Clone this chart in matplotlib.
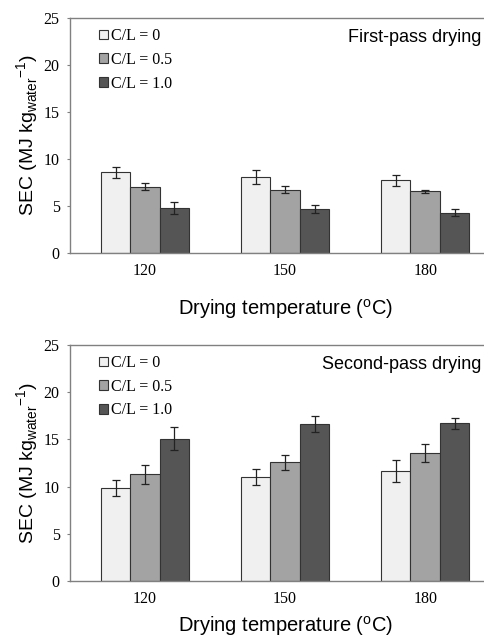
import numpy as np
import matplotlib
matplotlib.use("Agg")
from matplotlib import pyplot as plt
from matplotlib.patches import Patch

# data
temps = ["120", "150", "180"]
series = ["C/L = 0", "C/L = 0.5", "C/L = 1.0"]
colors = ["#f0f0f0", "#a3a3a3", "#555555"]

first_vals = [[8.6, 8.05, 7.73], [7.05, 6.75, 6.55], [4.8, 4.7, 4.3]]
first_err = [[0.6, 0.75, 0.55], [0.35, 0.35, 0.2], [0.65, 0.4, 0.4]]
second_vals = [[9.85, 11.02, 11.62], [11.3, 12.57, 13.6], [15.08, 16.63, 16.7]]
second_err = [[0.85, 0.83, 1.17], [1.0, 0.76, 0.95], [1.2, 0.85, 0.6]]

serif = "Liberation Serif"
sans = "Liberation Sans"

fig = plt.figure(figsize=(4.84, 6.37), dpi=100)
ax1 = fig.add_axes([0.1446, 0.6028, 0.889, 0.3689])
ax2 = fig.add_axes([0.1446, 0.0879, 0.889, 0.3705])


def draw(ax, vals, errs, title, xpad):
    x = np.arange(len(temps))
    w = 0.21
    for i in range(len(series)):
        ax.bar(x + (i - 1) * w, vals[i], w, color=colors[i], edgecolor="#333333",
               linewidth=0.8, yerr=errs[i], capsize=3,
               error_kw=dict(elinewidth=0.9, capthick=0.9, ecolor="#222222"))
    ax.set_xlim(-0.536, 2.536)
    ax.set_ylim(0, 25)
    ax.set_yticks([0, 5, 10, 15, 20, 25])
    ax.set_xticks(x)
    ax.set_xticklabels(temps)
    for lab in ax.get_xticklabels() + ax.get_yticklabels():
        lab.set_fontfamily(serif)
        lab.set_fontsize(11.5)
    ax.tick_params(axis="x", length=0, pad=7)
    ax.tick_params(axis="y", length=2.5, width=0.8, color="#808080", pad=5)
    for s in ["left", "bottom", "top"]:
        ax.spines[s].set_color("#808080")
        ax.spines[s].set_linewidth(1.0)
    ax.spines["right"].set_visible(False)
    ax.set_ylabel("SEC (MJ kg$_{\\mathregular{water}}$$^{\\mathregular{-1}}$)",
                  fontfamily=sans, fontsize=14, labelpad=2)
    ax.set_xlabel("Drying temperature ($^{\\mathregular{o}}$C)",
                  fontfamily=sans, fontsize=14.5, labelpad=xpad)
    ax.text(0.956, 0.919, title, transform=ax.transAxes, ha="right", va="center",
            fontfamily=sans, fontsize=13)
    handles = [Patch(facecolor=colors[i], edgecolor="#333333", linewidth=0.8)
               for i in range(len(series))]
    ax.legend(handles, series, loc="upper left", bbox_to_anchor=(0.035, 1.018),
              frameon=False, handlelength=0.55, handleheight=0.55,
              handletextpad=0.15, labelspacing=0.48,
              prop=dict(family=serif, size=11.5))


draw(ax1, first_vals, first_err, "First-pass drying", 13)
draw(ax2, second_vals, second_err, "Second-pass drying", 5.5)

fig.savefig("out.png", dpi=100)
